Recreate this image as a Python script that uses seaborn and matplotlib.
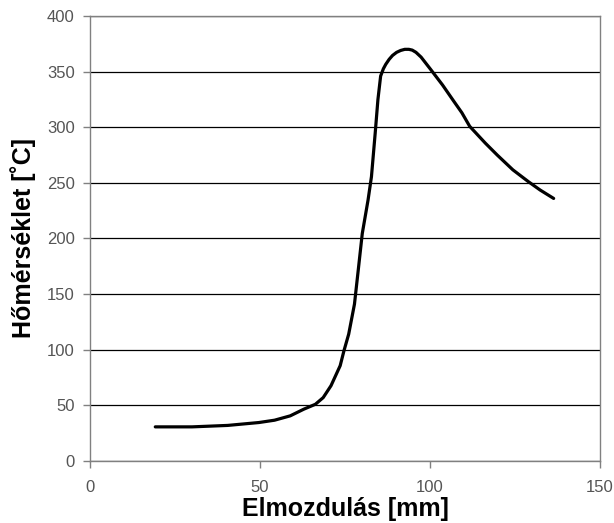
import matplotlib
matplotlib.use("Agg")
import matplotlib.pyplot as plt
import seaborn as sns
import pandas as pd

# Elmozdulás [mm]
displacement = [19.2, 30.0, 40.5, 49.7, 54.3, 58.9, 62.9, 66.3, 68.6, 70.9,
                73.6, 74.7, 76.1, 77.8, 79.0, 80.1, 81.8, 82.8, 83.9, 84.7,
                85.5, 86.3, 87.0, 88.0, 89.0, 90.2, 91.4, 92.6, 93.8, 94.8,
                95.9, 97.4, 100.2, 103.7, 107.1, 109.4, 111.7, 116.3, 119.8,
                124.4, 129.0, 132.4, 136.4]
# Hőmérséklet [°C]
temperature = [30.7, 30.7, 32.0, 34.6, 36.7, 40.6, 46.6, 51.0, 57.0, 67.7,
               85.7, 99.0, 114.0, 141.0, 174.0, 204.5, 234.6, 255.6, 294.7, 324.8,
               346.0, 352.5, 356.5, 361.0, 364.5, 367.3, 369.0, 370.0, 370.0, 369.3,
               367.3, 363.0, 352.0, 338.0, 323.0, 313.0, 300.8, 285.7, 275.0,
               261.7, 251.0, 243.6, 236.0]

df = pd.DataFrame({"x": displacement, "y": temperature})

sns.set_style("white")
plt.rcParams['font.family'] = ['Liberation Sans', 'DejaVu Sans']

fig = plt.figure(figsize=(6.14, 5.23), dpi=100)
ax = fig.add_axes([0.1466, 0.1185, 0.8304, 0.851])

sns.lineplot(data=df, x="x", y="y", sort=False, color="black", linewidth=2.3, ax=ax)

ax.set_xlim(0, 150)
ax.set_ylim(0, 400)
ax.set_xticks([0, 50, 100, 150])
ax.set_yticks(range(0, 401, 50))
ax.yaxis.grid(True, color="black", linewidth=0.9)
ax.xaxis.grid(False)
ax.set_axisbelow(True)

for s in ax.spines.values():
    s.set_color("#808080")
    s.set_linewidth(1.0)

ax.tick_params(axis="both", direction="out", length=5, width=1, color="#808080",
               labelsize=12, labelcolor="#555555", bottom=True, left=True)
ax.tick_params(axis="y", pad=6)
ax.tick_params(axis="x", pad=9)

ax.set_xlabel("Elmozdulás [mm]", fontsize=18, fontweight="bold", labelpad=1, color="black")
ax.set_ylabel("Hőmérséklet [˚C]", fontsize=18, fontweight="bold", labelpad=8, color="black")

fig.savefig("out.png", dpi=100, facecolor="white")
